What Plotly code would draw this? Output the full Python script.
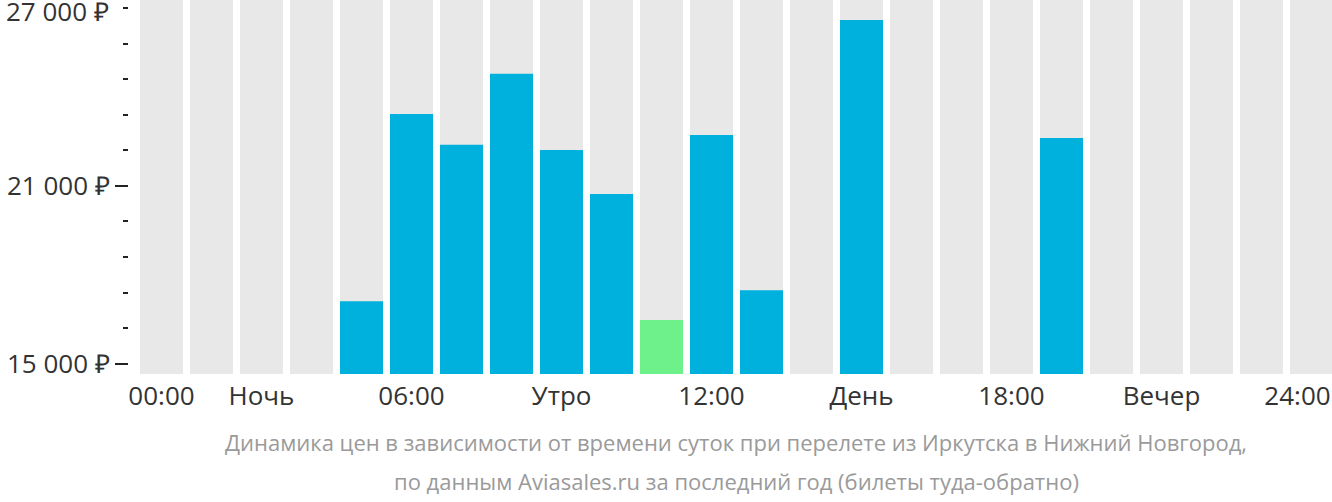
import plotly.graph_objects as go

hours = list(range(24))
prices = [None, None, None, None, 17100, 23430, 22390, 24790, 22220, 20730,
          16470, 22720, 17480, None, 26610, None, None, None, 22620, None,
          None, None, None, None]
cheapest_hour = 10

tick_pos = [0, 2, 5, 8, 11, 14, 17, 20, 22.72]
tick_text = ["00:00", "Ночь", "06:00", "Утро", "12:00", "День", "18:00", "Вечер", "24:00"]

y_labels_vals = [15000, 21000, 27000]
y_labels_text = ["15 000 ₽", "21 000 ₽", "27 000 ₽"]

caption_lines = ["Динамика цен в зависимости от времени суток при перелете из Иркутска в Нижний Новгород,",
                 "по данным Aviasales.ru за последний год (билеты туда-обратно)"]

Y_MIN, Y_MAX = 14645, 27287
BLUE = "#00B1DD"
GREEN = "#6EF08A"
GRAY = "#E8E8E8"

fig = go.Figure()
fig.add_trace(go.Bar(x=hours, y=[Y_MAX] * 24, width=0.86, marker_color=GRAY,
                     marker_line_width=0, hoverinfo="skip", showlegend=False))
colors = [GREEN if h == cheapest_hour else BLUE for h in hours]
fig.add_trace(go.Bar(x=hours, y=prices, width=0.86, marker_color=colors,
                     marker_line_width=0, showlegend=False))

annotations = []
for i, line in enumerate(caption_lines):
    annotations.append(dict(text=line, xref="paper", yref="paper", x=0.5046,
                            y=-0.182 - i * 0.1043, xanchor="center", yanchor="middle",
                            showarrow=False,
                            font=dict(size=22, color="#9A9A9A", family="Open Sans")))

# top label drawn as annotation, nudged down slightly so it is not clipped
axis_text = list(y_labels_text)
axis_text[-1] = ""
annotations.append(dict(text=y_labels_text[-1], xref="paper", yref="y", x=0,
                        y=y_labels_vals[-1], xanchor="right", yanchor="middle",
                        xshift=-18, yshift=-3, showarrow=False,
                        font=dict(size=26, color="#333333", family="Open Sans")))

fig.update_layout(
    width=1332, height=502, barmode="overlay",
    margin=dict(l=129, r=0, t=0, b=128, autoexpand=False),
    plot_bgcolor="white", paper_bgcolor="white",
    font=dict(family="Open Sans", color="#333333", size=26),
    xaxis=dict(range=[-0.65, 23.41], tickmode="array", tickvals=tick_pos,
               ticktext=tick_text, showgrid=False, zeroline=False,
               showline=False, ticks="", ticklabelstandoff=4, automargin=False,
               tickfont=dict(size=26, color="#333333")),
    yaxis=dict(range=[Y_MIN, Y_MAX], tickmode="array", tickvals=y_labels_vals,
               ticktext=axis_text, showgrid=False, zeroline=False,
               showline=False, ticks="outside", ticklen=13, tickwidth=2,
               ticklabeloverflow="allow", automargin=False,
               tickcolor="#222222", tickfont=dict(size=26, color="#333333"),
               minor=dict(tickmode="array",
                          tickvals=[15000 + 1200 * i for i in range(11)],
                          ticks="outside", ticklen=5, tickwidth=2,
                          tickcolor="#222222", showgrid=False)),
    annotations=annotations,
)

fig.write_html("out.html")
